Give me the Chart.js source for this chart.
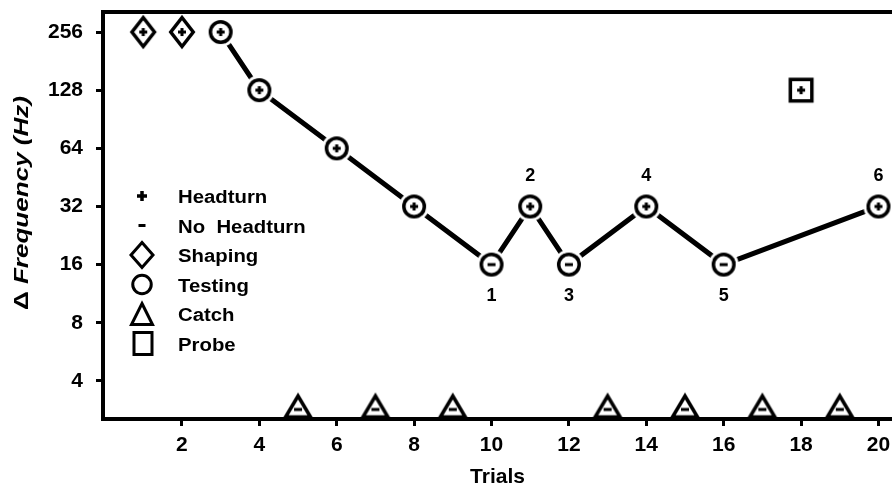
<!DOCTYPE html>
<html>
<head>
<meta charset="utf-8">
<title>Δ Frequency by trial</title>
<script src="https://cdn.jsdelivr.net/npm/chart.js@4.4.1/dist/chart.umd.min.js"></script>
<style>
  body { margin: 0; background: #fff; }
  #wrap { width: 892px; height: 490px; }
</style>
</head>
<body>
<div id="wrap"><canvas id="trialChart"></canvas></div>
<script>
// values
const shapingTrials = [1, 2];
const shapingFreq = [256, 256];
const shapingResp = ["+", "+"];

const testingTrials = [3, 4, 6, 8, 10, 11, 12, 14, 16, 20];
const testingFreq = [256, 128, 64, 32, 16, 32, 16, 32, 16, 32];
const testingResp = ["+", "+", "+", "+", "-", "+", "-", "+", "-", "+"];

const catchTrials = [5, 7, 9, 13, 15, 17, 19];
const catchFreq = [2.95, 2.95, 2.95, 2.95, 2.95, 2.95, 2.95]; // no change, sits on the floor
const catchResp = ["-", "-", "-", "-", "-", "-", "-"];

const probeTrials = [18];
const probeFreq = [128];
const probeResp = ["+"];

const reversalTrials = [10, 11, 12, 14, 16, 20];
const reversalLabels = ["1", "2", "3", "4", "5", "6"];

const yTicks = [4, 8, 16, 32, 64, 128, 256];
const yTickLabels = ["4", "8", "16", "32", "64", "128", "256"];
const xTicks = [2, 4, 6, 8, 10, 12, 14, 16, 18, 20];
const xTickLabels = ["2", "4", "6", "8", "10", "12", "14", "16", "18", "20"];

const legendShapes = ["plus", "minus", "diamond", "circle", "triangle", "square"];
const legendTexts = ["Headturn", "No  Headturn", "Shaping", "Testing", "Catch", "Probe"];

const FONT = "'Liberation Sans', Arial, Helvetica, sans-serif";

function drawSign(ctx, cx, cy, sign, len, thick) {
    ctx.fillStyle = "#000";
    ctx.fillRect(cx - len / 2, cy - thick / 2, len, thick);
    if (sign === "+") {
        ctx.fillRect(cx - thick / 2, cy - len / 2, thick, len);
    }
}

function shapePath(ctx, shape, cx, cy, w, h) {
    ctx.beginPath();
    if (shape === "circle") {
        ctx.arc(cx, cy, w / 2, 0, Math.PI * 2);
    } else if (shape === "diamond") {
        ctx.moveTo(cx, cy - h / 2);
        ctx.lineTo(cx + w / 2, cy);
        ctx.lineTo(cx, cy + h / 2);
        ctx.lineTo(cx - w / 2, cy);
        ctx.closePath();
    } else if (shape === "triangle") {
        ctx.moveTo(cx, cy - h / 2);
        ctx.lineTo(cx + w / 2, cy + h / 2);
        ctx.lineTo(cx - w / 2, cy + h / 2);
        ctx.closePath();
    } else {
        ctx.rect(cx - w / 2, cy - h / 2, w, h);
    }
}

function drawSymbol(ctx, shape, cx, cy, w, h, lw, halo) {
    if (halo) {
        ctx.strokeStyle = "#fff";
        ctx.lineWidth = halo;
        shapePath(ctx, shape, cx, cy, w + lw + halo, h + lw + halo);
        ctx.stroke();
    }
    shapePath(ctx, shape, cx, cy, w, h);
    ctx.fillStyle = "#fff";
    ctx.fill();
    ctx.lineJoin = "miter";
    ctx.lineWidth = lw;
    ctx.strokeStyle = "#000";
    ctx.stroke();
}

const markerSpecs = {
    circle:   { w: 20.5, h: 20.5, lw: 3.5, cw: 34, ch: 34, signDy: 0, halo: 3 },
    diamond:  { w: 22.5, h: 29,   lw: 3.5, cw: 34, ch: 42, signDy: 0, halo: 0 },
    triangle: { w: 25,   h: 21,   lw: 3.5, cw: 40, ch: 32, signDy: 3, halo: 0 },
    square:   { w: 21.5, h: 21.5, lw: 3.5, cw: 30, ch: 30, signDy: 0, halo: 0 }
};

function makeMarker(shape, sign) {
    const spec = markerSpecs[shape];
    const c = document.createElement("canvas");
    c.width = spec.cw;
    c.height = spec.ch;
    const ctx = c.getContext("2d");
    const cx = spec.cw / 2, cy = spec.ch / 2;
    drawSymbol(ctx, shape, cx, cy, spec.w, spec.h, spec.lw, spec.halo);
    drawSign(ctx, cx, cy + spec.signDy, sign, 8, 3);
    return c;
}

function points(xs, ys) {
    return xs.map((x, i) => ({ x: x, y: ys[i] }));
}

// frame top, reversal numbers, y title and the legend box
const overlay = {
    id: "overlay",
    afterDraw(chart) {
        const ctx = chart.ctx;
        const area = chart.chartArea;
        const xs = chart.scales.x, ys = chart.scales.y;
        ctx.save();

        ctx.strokeStyle = "#000";
        ctx.lineWidth = 4;
        ctx.beginPath();
        ctx.moveTo(area.left - 2, area.top);
        ctx.lineTo(area.right, area.top);
        ctx.stroke();

        ctx.fillStyle = "#000";
        ctx.font = "bold 18px " + FONT;
        ctx.textAlign = "center";
        ctx.textBaseline = "middle";
        reversalTrials.forEach((t, i) => {
            const k = testingTrials.indexOf(t);
            const up = testingResp[k] === "+";
            const px = xs.getPixelForValue(t);
            const py = ys.getPixelForValue(testingFreq[k]) + (up ? -30 : 31);
            ctx.fillText(reversalLabels[i], px, py);
        });

        // y title: upright delta, italic words
        ctx.save();
        ctx.translate(22, 203);
        ctx.rotate(-Math.PI / 2);
        ctx.scale(1.24, 1);
        ctx.textAlign = "left";
        ctx.font = "bold 21px " + FONT;
        const wD = ctx.measureText("Δ ").width;
        ctx.font = "italic bold 21px " + FONT;
        const wF = ctx.measureText("Frequency (Hz)").width;
        const start = -(wD + wF) / 2;
        ctx.font = "bold 21px " + FONT;
        ctx.fillText("Δ ", start, 0);
        ctx.font = "italic bold 21px " + FONT;
        ctx.fillText("Frequency (Hz)", start + wD, 0);
        ctx.restore();

        // legend
        const symX = 142, textX = 178, base0 = 203, rowH = 29.5;
        ctx.font = "bold 18px " + FONT;
        ctx.textAlign = "left";
        ctx.textBaseline = "alphabetic";
        legendShapes.forEach((shape, i) => {
            const base = base0 + i * rowH;
            const cy = base - 7;
            if (shape === "plus") {
                drawSign(ctx, symX, cy, "+", 10, 3.5);
            } else if (shape === "minus") {
                drawSign(ctx, symX, cy, "-", 7, 3);
            } else if (shape === "diamond") {
                drawSymbol(ctx, shape, symX, cy, 22, 25, 3, 0);
            } else if (shape === "circle") {
                drawSymbol(ctx, shape, symX, cy, 18.5, 18.5, 3, 0);
            } else if (shape === "triangle") {
                drawSymbol(ctx, shape, symX, cy, 21, 21, 3, 0);
            } else {
                drawSymbol(ctx, shape, symX + 1, cy, 18, 22, 3, 0);
            }
            ctx.save();
            ctx.translate(textX, base);
            ctx.scale(1.13, 1);
            ctx.fillStyle = "#000";
            ctx.fillText(legendTexts[i], 0, 0);
            ctx.restore();
        });

        ctx.restore();
    }
};

const shapingMarkers = shapingResp.map(r => makeMarker("diamond", r));
const testingMarkers = testingResp.map(r => makeMarker("circle", r));
const catchMarkers = catchResp.map(r => makeMarker("triangle", r));
const probeMarkers = probeResp.map(r => makeMarker("square", r));

const tickFont = { family: FONT, size: 21, weight: "bold" };
const axisGrid = { drawOnChartArea: false, drawTicks: true, tickLength: 7, tickWidth: 3, tickColor: "#000", color: "#000" };
const axisBorder = { display: true, color: "#000", width: 4 };

new Chart(document.getElementById("trialChart"), {
    type: "scatter",
    data: {
        datasets: [
            {
                label: "Testing",
                data: points(testingTrials, testingFreq),
                showLine: true,
                borderColor: "#000",
                borderWidth: 5,
                tension: 0,
                pointStyle: testingMarkers,
                pointRadius: 12,
                pointHoverRadius: 12,
                pointBorderWidth: 0,
                clip: false
            },
            {
                label: "Shaping",
                data: points(shapingTrials, shapingFreq),
                pointStyle: shapingMarkers,
                pointRadius: 12,
                pointHoverRadius: 12,
                pointBorderWidth: 0,
                clip: false
            },
            {
                label: "Catch",
                data: points(catchTrials, catchFreq),
                pointStyle: catchMarkers,
                pointRadius: 12,
                pointHoverRadius: 12,
                pointBorderWidth: 0,
                clip: false
            },
            {
                label: "Probe",
                data: points(probeTrials, probeFreq),
                pointStyle: probeMarkers,
                pointRadius: 12,
                pointHoverRadius: 12,
                pointBorderWidth: 0,
                clip: false
            }
        ]
    },
    options: {
        responsive: true,
        maintainAspectRatio: false,
        animation: false,
        events: [],
        layout: { autoPadding: false, padding: { top: 12, right: 0, bottom: 0, left: 0 } },
        plugins: {
            legend: { display: false },
            tooltip: { enabled: false }
        },
        scales: {
            x: {
                type: "linear",
                min: -0.04,
                max: 20.35,
                afterBuildTicks: s => { s.ticks = xTicks.map(v => ({ value: v })); },
                afterFit: s => { s.height = 71; s.paddingLeft = 0; s.paddingRight = 0; },
                ticks: {
                    callback: (v, i) => xTickLabels[i],
                    color: "#000",
                    font: tickFont,
                    padding: 7,
                    maxRotation: 0,
                    autoSkip: false
                },
                grid: axisGrid,
                border: axisBorder,
                title: {
                    display: true,
                    text: "Trials",
                    color: "#000",
                    font: { family: FONT, size: 21, weight: "bold" },
                    padding: { top: 0, bottom: 0 }
                }
            },
            y: {
                type: "logarithmic",
                min: 2.54,
                max: 325,
                afterBuildTicks: s => { s.ticks = yTicks.map(v => ({ value: v })); },
                afterFit: s => { s.width = 103; s.paddingTop = 0; s.paddingBottom = 0; },
                ticks: {
                    callback: (v, i) => yTickLabels[i],
                    color: "#000",
                    font: tickFont,
                    padding: 13,
                    autoSkip: false
                },
                grid: axisGrid,
                border: axisBorder
            }
        }
    },
    plugins: [overlay]
});
</script>
</body>
</html>
